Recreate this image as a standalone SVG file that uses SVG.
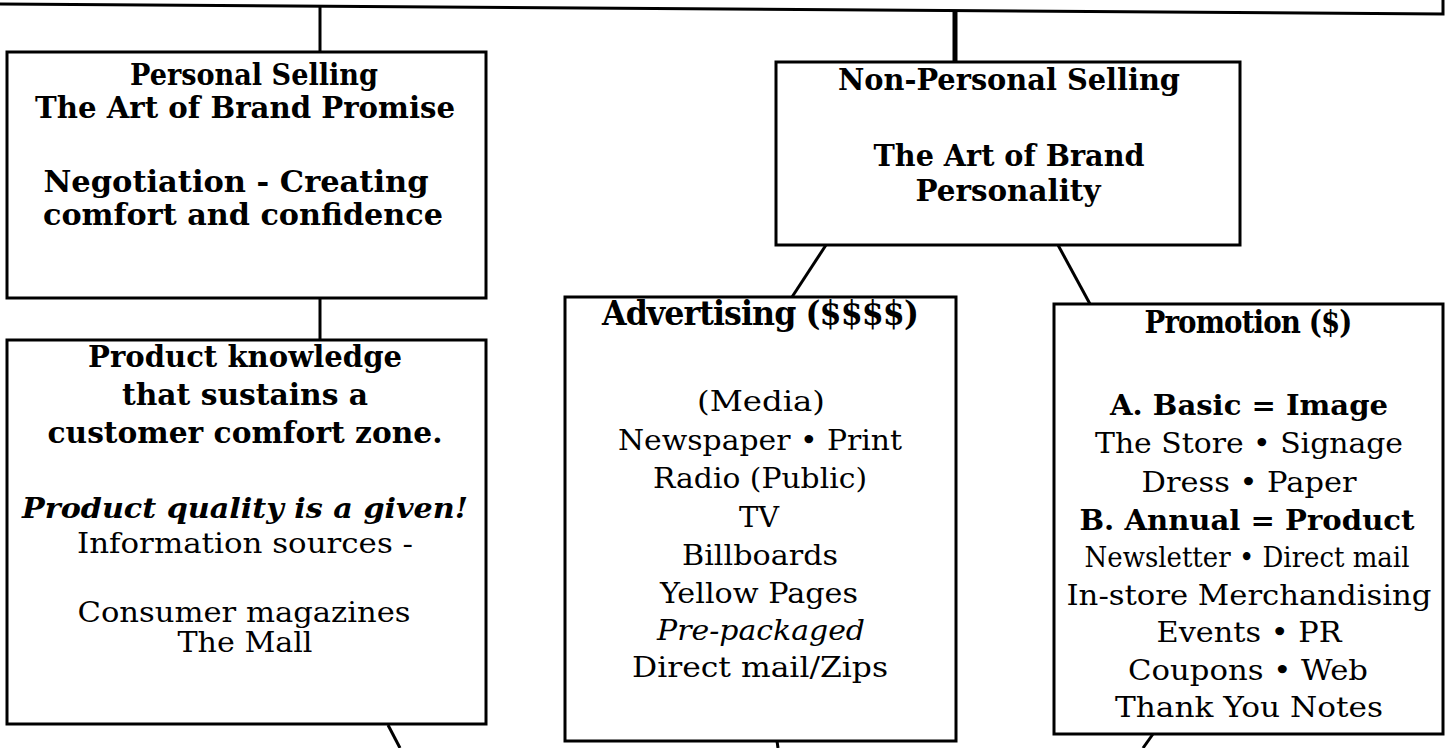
<svg xmlns="http://www.w3.org/2000/svg" width="1447" height="748" viewBox="0 0 1447 748">
<style>
.box{fill:#fff;stroke:#000;stroke-width:3}
.con{stroke:#000;stroke-width:3;fill:none}
text{font-family:"DejaVu Serif","Liberation Serif",serif;fill:#000;text-anchor:middle}
.b{font-weight:bold;font-size:30px}
.bs{font-weight:bold;font-size:27px}
.bi{font-weight:bold;font-style:italic;font-size:28px}
.r{font-size:27px}
.i{font-style:italic;font-size:27px}
.h{font-weight:bold;font-size:34px;letter-spacing:-1px}
</style>
<rect width="1447" height="748" fill="#fff"/>
<g id="top-box">
<path d="M0,4 L1443,14 L1443,0" class="con"/>
</g>
<g id="connectors">
<line class="con" x1="320" y1="5" x2="320" y2="52"/>
<line class="con" x1="955" y1="12" x2="955" y2="62" style="stroke-width:5"/>
<line class="con" x1="320" y1="298" x2="320" y2="340"/>
<line class="con" x1="826" y1="245" x2="792" y2="297"/>
<line class="con" x1="1058" y1="245" x2="1090" y2="304"/>
<line class="con" x1="388" y1="725" x2="400" y2="748"/>
<line class="con" x1="777" y1="741" x2="778" y2="748"/>
<line class="con" x1="1153" y1="734" x2="1143" y2="748"/>
</g>
<g id="personal-selling">
<rect class="box" x="7" y="52" width="479" height="246"/>
<text class="b" x="254" y="85" textLength="248" lengthAdjust="spacingAndGlyphs">Personal Selling</text>
<text class="b" x="245" y="118" textLength="420" lengthAdjust="spacingAndGlyphs">The Art of Brand Promise</text>
<text class="b" x="236" y="192" textLength="385" lengthAdjust="spacingAndGlyphs">Negotiation - Creating</text>
<text class="b" x="243" y="225" textLength="400" lengthAdjust="spacingAndGlyphs">comfort and confidence</text>
</g>
<g id="product-knowledge">
<rect class="box" x="7" y="340" width="479" height="384"/>
<text class="b" x="245" y="367" textLength="314" lengthAdjust="spacingAndGlyphs">Product knowledge</text>
<text class="b" x="245" y="405" textLength="246" lengthAdjust="spacingAndGlyphs">that sustains a</text>
<text class="b" x="245" y="443" textLength="395" lengthAdjust="spacingAndGlyphs">customer comfort zone.</text>
<text class="bi" x="245" y="518" textLength="446" lengthAdjust="spacingAndGlyphs">Product quality is a given!</text>
<text class="r" x="245" y="553" textLength="336" lengthAdjust="spacingAndGlyphs">Information sources -</text>
<text class="r" x="244" y="622" textLength="333" lengthAdjust="spacingAndGlyphs">Consumer magazines</text>
<text class="r" x="245" y="652" textLength="135" lengthAdjust="spacingAndGlyphs">The Mall</text>
</g>
<g id="non-personal-selling">
<rect class="box" x="776" y="62" width="464" height="183"/>
<text class="b" x="1009" y="90" textLength="342" lengthAdjust="spacingAndGlyphs">Non-Personal Selling</text>
<text class="b" x="1009" y="166" textLength="271" lengthAdjust="spacingAndGlyphs">The Art of Brand</text>
<text class="b" x="1008" y="201" textLength="185" lengthAdjust="spacingAndGlyphs">Personality</text>
</g>
<g id="advertising">
<rect class="box" x="565" y="297" width="391" height="444"/>
<text class="h" x="760" y="325" textLength="316" lengthAdjust="spacingAndGlyphs">Advertising ($$$$)</text>
<text class="r" x="761" y="411" textLength="128" lengthAdjust="spacingAndGlyphs">(Media)</text>
<text class="r" x="760" y="450" textLength="284" lengthAdjust="spacingAndGlyphs">Newspaper • Print</text>
<text class="r" x="760" y="488" textLength="214" lengthAdjust="spacingAndGlyphs">Radio (Public)</text>
<text class="r" x="759" y="527" textLength="40" lengthAdjust="spacingAndGlyphs">TV</text>
<text class="r" x="760" y="565" textLength="156" lengthAdjust="spacingAndGlyphs">Billboards</text>
<text class="r" x="759" y="603" textLength="198" lengthAdjust="spacingAndGlyphs">Yellow Pages</text>
<text class="i" x="761" y="640" textLength="208" lengthAdjust="spacingAndGlyphs">Pre-packaged</text>
<text class="r" x="760" y="677" textLength="256" lengthAdjust="spacingAndGlyphs">Direct mail/Zips</text>
</g>
<g id="promotion">
<rect class="box" x="1054" y="304" width="389" height="430"/>
<text class="h" x="1248" y="333" textLength="207" lengthAdjust="spacingAndGlyphs" style="font-size:31px">Promotion ($)</text>
<text class="bs" x="1249" y="415" textLength="278" lengthAdjust="spacingAndGlyphs">A. Basic = Image</text>
<text class="r" x="1249" y="453" textLength="308" lengthAdjust="spacingAndGlyphs">The Store • Signage</text>
<text class="r" x="1249" y="492" textLength="215" lengthAdjust="spacingAndGlyphs">Dress • Paper</text>
<text class="bs" x="1247" y="530" textLength="335" lengthAdjust="spacingAndGlyphs">B. Annual = Product</text>
<text class="r" x="1247" y="567" textLength="325" lengthAdjust="spacingAndGlyphs">Newsletter • Direct mail</text>
<text class="r" x="1249" y="605" textLength="365" lengthAdjust="spacingAndGlyphs">In-store Merchandising</text>
<text class="r" x="1249" y="642" textLength="185" lengthAdjust="spacingAndGlyphs">Events • PR</text>
<text class="r" x="1248" y="680" textLength="240" lengthAdjust="spacingAndGlyphs">Coupons • Web</text>
<text class="r" x="1249" y="717" textLength="268" lengthAdjust="spacingAndGlyphs">Thank You Notes</text>
</g>
</svg>
